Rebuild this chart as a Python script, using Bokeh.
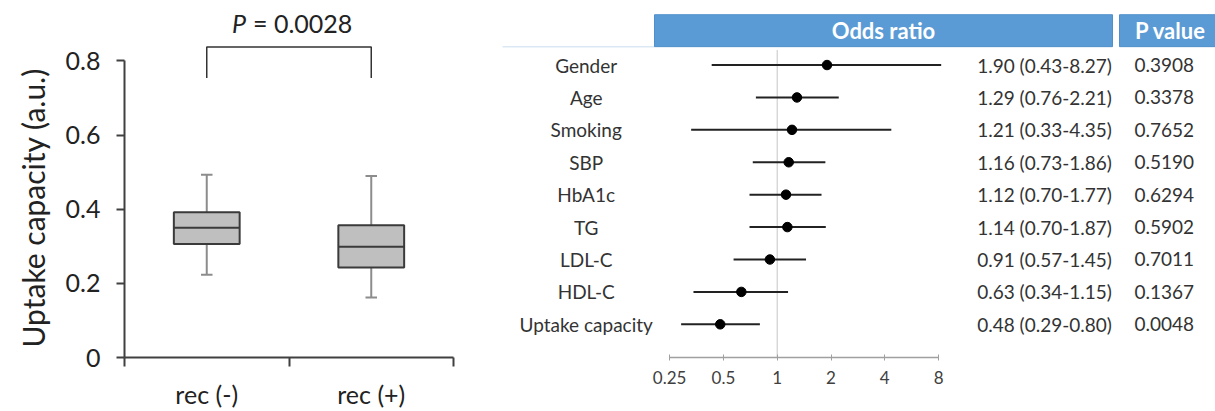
from bokeh.plotting import figure
from bokeh.layouts import row
from bokeh.models import (Range1d, FixedTicker, LogScale, LogAxis,
                          CustomJSTickFormatter, Title)
from bokeh.core.properties import value
from bokeh.embed import file_html
from bokeh.resources import INLINE

# ---------------- data ----------------
groups = ["rec (-)", "rec (+)"]
whisk_low = [0.223, 0.162]
q1 = [0.306, 0.243]
median = [0.350, 0.299]
q3 = [0.392, 0.357]
whisk_high = [0.493, 0.490]
y_ticks = [0, 0.2, 0.4, 0.6, 0.8]
y_title = "Uptake capacity (a.u.)"
p_label = "= 0.0028"

variables = ["Gender", "Age", "Smoking", "SBP", "HbA1c", "TG", "LDL-C", "HDL-C", "Uptake capacity"]
odds = [1.90, 1.29, 1.21, 1.16, 1.12, 1.14, 0.91, 0.63, 0.48]
ci_low = [0.43, 0.76, 0.33, 0.73, 0.70, 0.70, 0.57, 0.34, 0.29]
ci_high = [8.27, 2.21, 4.35, 1.86, 1.77, 1.87, 1.45, 1.15, 0.80]
p_values = ["0.3908", "0.3378", "0.7652", "0.5190", "0.6294", "0.5902", "0.7011", "0.1367", "0.0048"]
or_ticks = [0.25, 0.5, 1, 2, 4, 8]

FONT = "Lato"
H = 411
DARK = "#333333"

# ---------------- left: box plot ----------------
LEFT = 123
p1 = figure(width=478, height=H, x_range=Range1d(0, 2), y_range=Range1d(0, 360 / 373.75),
            output_backend="svg", toolbar_location=None,
            min_border_left=LEFT, min_border_right=25, min_border_top=0, min_border_bottom=51)
p1.xgrid.visible = False
p1.ygrid.visible = False
p1.outline_line_color = None

xs = [i + 0.5 for i in range(len(groups))]
half = 0.2
cap = 0.035
p1.segment(x0=xs, x1=xs, y0=q3, y1=whisk_high, line_color="#8C8C8C", line_width=2)
p1.segment(x0=xs, x1=xs, y0=q1, y1=whisk_low, line_color="#8C8C8C", line_width=2)
p1.segment(x0=[x - cap for x in xs], x1=[x + cap for x in xs], y0=whisk_high, y1=whisk_high,
           line_color="#8C8C8C", line_width=2)
p1.segment(x0=[x - cap for x in xs], x1=[x + cap for x in xs], y0=whisk_low, y1=whisk_low,
           line_color="#8C8C8C", line_width=2)
p1.vbar(x=xs, bottom=q1, top=q3, width=2 * half, fill_color="#BFBFBF",
        line_color="#3A3A3A", line_width=2)
p1.segment(x0=[x - half for x in xs], x1=[x + half for x in xs], y0=median, y1=median,
           line_color="#3A3A3A", line_width=2)

# significance bracket
p1.line(x=[xs[0], xs[0], xs[1], xs[1]], y=[0.754, 0.838, 0.838, 0.754],
        line_color=DARK, line_width=1.5)
mid = (xs[0] + xs[1]) / 2
p1.text(x=[mid], y=[0.9017], text=["P"], x_offset=-43, text_align="right",
        text_baseline="middle", text_font=value(FONT), text_font_size="25px",
        text_font_style="italic", text_color="#222222")
p1.text(x=[mid], y=[0.9017], text=[p_label], x_offset=-36, text_align="left",
        text_baseline="middle", text_font=value(FONT), text_font_size="25px",
        text_color="#222222")

# y-axis title as a left-side title, starting just above the x-axis
p1.add_layout(Title(text=y_title, align="left", offset=10, standoff=24,
                    text_font=FONT, text_font_size="30px", text_font_style="normal",
                    text_color="#222222"), "left")

ya = p1.yaxis[0]
ya.ticker = FixedTicker(ticks=y_ticks)
ya.formatter = CustomJSTickFormatter(code="return tick.toString();")
ya.bounds = (0, 0.8)
ya.major_label_text_font = FONT
ya.major_label_text_font_size = "25px"
ya.major_label_text_color = "#222222"
ya.major_label_standoff = 16
ya.major_tick_out = 8
ya.major_tick_in = 0
ya.minor_tick_line_color = None
ya.axis_line_width = 2
ya.axis_line_color = "#404040"
ya.major_tick_line_width = 2
ya.major_tick_line_color = "#404040"

xa = p1.xaxis[0]
xa.ticker = FixedTicker(ticks=xs, minor_ticks=[0, 1, 2])
xa.major_label_overrides = {x: g for x, g in zip(xs, groups)}
xa.major_tick_line_color = None
xa.major_tick_out = 9
xa.minor_tick_out = 9
xa.minor_tick_in = 0
xa.minor_tick_line_color = "#404040"
xa.minor_tick_line_width = 2
xa.axis_line_width = 2
xa.axis_line_color = "#404040"
xa.major_label_text_font = FONT
xa.major_label_text_font_size = "25px"
xa.major_label_text_color = "#222222"
xa.major_label_standoff = 12

# ---------------- right: forest plot ----------------
W2 = 737
px_per_doubling = 53.8
x_one = 298.7
log_start = 2 ** (-x_one / px_per_doubling)
log_end = 2 ** ((W2 - x_one) / px_per_doubling)
row0 = 66.7
row_h = 33.5
frame_bottom = 369.0

p2 = figure(width=W2, height=H, x_range=Range1d(0, W2),
            y_range=Range1d((frame_bottom - row0) / row_h, -row0 / row_h),
            output_backend="svg", toolbar_location=None,
            x_axis_location=None, y_axis_location=None,
            min_border_left=0, min_border_right=0, min_border_top=0,
            min_border_bottom=int(H - frame_bottom))
p2.xgrid.visible = False
p2.ygrid.visible = False
p2.outline_line_color = None
p2.extra_x_scales = {"log": LogScale()}
p2.extra_x_ranges = {"log": Range1d(log_start, log_end)}

rows = list(range(len(variables)))

# header
hdr_top = (14.7 - row0) / row_h
hdr_bot = (47.7 - row0) / row_h
hdr_mid = (hdr_top + hdr_bot) / 2
p2.segment(x0=[24], x1=[176], y0=[hdr_bot], y1=[hdr_bot], line_color="#DCE9F5", line_width=1.5)
p2.quad(left=[176, 641], right=[634, 760], top=[hdr_top, hdr_top], bottom=[hdr_bot, hdr_bot],
        fill_color="#5B9BD5", line_color="#4F8FCB", line_width=1)
p2.text(x=[405, 692], y=[hdr_mid, hdr_mid], text=["Odds ratio", "P value"], text_align="center",
        text_baseline="middle", text_font=value(FONT), text_font_size="22px",
        text_font_style="bold", text_color="white")

# reference line at OR = 1
p2.segment(x0=[1], x1=[1], y0=[(51.7 - row0) / row_h], y1=[(frame_bottom - row0) / row_h],
           x_range_name="log", line_color="#8A8A8A", line_dash="1 1", line_width=1)

# CIs and estimates
p2.segment(x0=ci_low, x1=ci_high, y0=rows, y1=rows, x_range_name="log",
           line_color="#222222", line_width=2)
p2.scatter(x=odds, y=rows, size=9.5, fill_color="black", line_color="black", x_range_name="log")

# labels
p2.text(x=107.7, y=rows, text=variables, text_align="center", text_baseline="middle",
        text_font=value(FONT), text_font_size="19px", text_color="#333333")
or_text = [f"{o:.2f} ({lo:.2f}-{hi:.2f})" for o, lo, hi in zip(odds, ci_low, ci_high)]
p2.text(x=498.7, y=rows, text=or_text, text_align="left", text_baseline="middle",
        text_font=value(FONT), text_font_size="19px", text_color="#333333")
p2.text(x=656, y=rows, text=p_values, text_align="left", text_baseline="middle",
        text_font=value(FONT), text_font_size="19px", text_color="#333333")

lax = LogAxis(x_range_name="log", ticker=FixedTicker(ticks=or_ticks),
              formatter=CustomJSTickFormatter(code="return tick.toString();"),
              bounds=(0.25, 8))
lax.axis_line_color = "#A0A0A0"
lax.axis_line_width = 1.5
lax.major_tick_line_color = "#A0A0A0"
lax.major_tick_in = 3
lax.major_tick_out = 3
lax.minor_tick_line_color = None
lax.major_label_text_font = FONT
lax.major_label_text_font_size = "17px"
lax.major_label_text_color = "#404040"
lax.major_label_standoff = 10
p2.add_layout(lax, "below")

layout = row(p1, p2)
open("out.html", "w").write(file_html(layout, INLINE))
